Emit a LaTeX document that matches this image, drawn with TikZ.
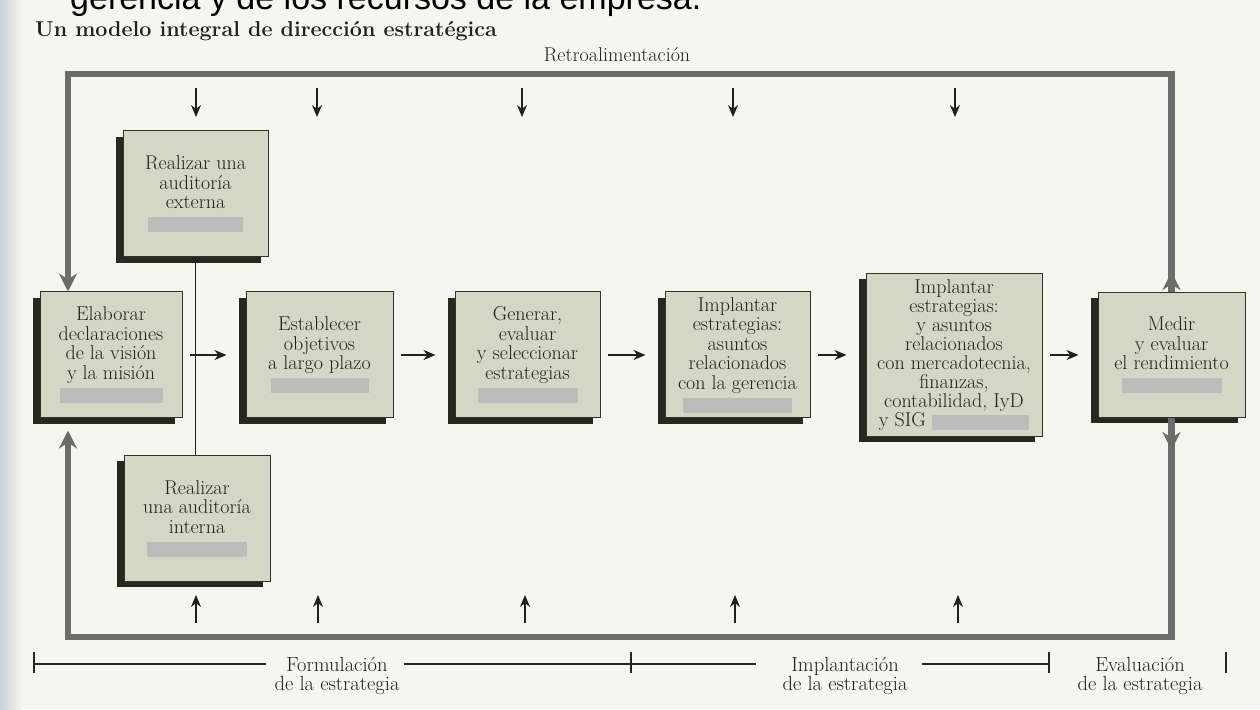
\documentclass[tikz,border=0pt]{standalone}
\usepackage{fontspec}
\setsansfont{Liberation Sans}
\usetikzlibrary{positioning,arrows.meta,shadows}

\definecolor{fondo}{RGB}{246,246,240}
\definecolor{caja}{RGB}{212,215,197}
\definecolor{sombra}{RGB}{40,40,30}
\definecolor{borde}{RGB}{50,50,45}
\definecolor{retro}{RGB}{108,108,106}
\definecolor{tinta}{RGB}{32,32,28}
\definecolor{tapagris}{RGB}{188,188,188}
\definecolor{orilla}{RGB}{200,212,216}

% barra gris que tapa el texto
\newcommand{\tapa}[1][100pt]{\textcolor{tapagris}{\rule[-4pt]{#1}{15pt}}}

\tikzset{
  paso/.style={draw=borde, line width=1pt, fill=caja, align=center,
    general shadow={fill=sombra, shadow xshift=-7pt, shadow yshift=-6pt},
    font=\fontsize{20}{19.5}\selectfont, text=tinta,
    minimum width=145pt, minimum height=126pt, inner sep=2pt},
  flujo/.style={draw=tinta, line width=2pt, -{Stealth[length=12pt,width=10pt]},
    shorten <=7pt, shorten >=19pt},
  retroline/.style={draw=retro, line width=6.5pt},
  retrotip/.style={-{Stealth[length=18pt,width=18pt]}},
  entrada/.style={draw=tinta, line width=1.3pt, -{Stealth[length=12pt,width=10pt]}},
  fase/.style={draw=black!85, line width=1.6pt},
  etiqueta/.style={font=\fontsize{20.5}{18.5}\selectfont, align=center, text=tinta, inner sep=4pt}
}

\begin{document}
\begin{tikzpicture}[x=1pt,y=1pt]
  % fondo
  \fill[fondo] (0,0) rectangle (1260,709);
  \shade[left color=orilla, right color=fondo] (0,0) rectangle (22,709);
  \useasboundingbox (0,0) rectangle (1260,709);

  %% textos de arriba
  \node[anchor=base west, font=\sffamily\fontsize{34}{34}\selectfont, inner sep=0pt] (pagina) at (70,699) {gerencia y de los recursos de la empresa.};
  \node[anchor=base west, font=\bfseries\fontsize{21.5}{21.5}\selectfont, inner sep=0pt, text=tinta] (titulo) at (35,672) {Un modelo integral de dirección estratégica};
  \node[font=\fontsize{20}{20}\selectfont, text=tinta] (retro) at (617,654) {Retroalimentación};

  %% pasos
  \node[paso, minimum width=142pt] (elab) at (111,354) {Elaborar\\declaraciones\\de la visión\\y la misión\\\tapa[103pt]};
  \node[paso, right=63pt of elab, minimum width=147pt] (estab) {Establecer\\objetivos\\a largo plazo\\\tapa[98pt]};
  \node[paso, right=61pt of estab] (gener) {Generar,\\evaluar\\y seleccionar\\estrategias\\\tapa[100pt]};
  \node[paso, right=64pt of gener] (impl1) {Implantar\\estrategias:\\asuntos\\relacionados\\con la gerencia\\\tapa[109pt]};
  \node[paso, right=55pt of impl1, minimum width=176pt, minimum height=163pt, font=\fontsize{20}{19}\selectfont] (impl2) {Implantar\\estrategias:\\y asuntos\\relacionados\\con mercadotecnia,\\finanzas,\\contabilidad, IyD\\y SIG \tapa[97pt]};
  \node[paso, right=55pt of impl2, minimum width=147pt, minimum height=125pt] (medir) {Medir\\y evaluar\\el rendimiento\\\tapa[100pt]};
  \node[paso] (extern) at (195.5,515) {Realizar una\\auditoría\\externa\\\tapa[95pt]};
  \node[paso, minimum width=146pt] (intern) at (197,190.5) {Realizar\\una auditoría\\interna\\\tapa[100pt]};

  %% conexiones
  \draw[draw=tinta, line width=1.2pt] (extern.south) -- (extern.south |- intern.north);
  \draw[flujo] (elab) -- (estab);
  \draw[flujo] (estab) -- (gener);
  \draw[flujo] (gener) -- (impl1);
  \draw[flujo] (impl1) -- (impl2);
  \draw[flujo] (impl2) -- (medir);

  %% retroalimentacion
  \coordinate (esqA) at (68,635);
  \coordinate (esqB) at (medir.north |- esqA);
  \coordinate (esqC) at (68,72);
  \coordinate (esqD) at (medir.south |- esqC);
  \coordinate (subeA) at ([yshift=20pt]medir.north);
  \coordinate (bajaA) at ([yshift=-32pt]medir.south);
  \draw[retroline, retrotip] (medir.north) -- (esqB) -- (esqA) -- (esqA |- elab.north);
  \draw[retroline, retrotip] (medir.north) -- (subeA);
  \draw[retroline, retrotip, shorten >=12pt] (medir.south) -- (esqD) -- (esqC) -- (esqC |- elab.south);
  \draw[retroline, retrotip] (medir.south) -- (bajaA);

  %% entradas
  \foreach \x [count=\i] in {196,317,522,733,955} {
    \coordinate (arribaA\i) at (\x,621);
    \coordinate (arribaB\i) at (\x,592);
    \draw[entrada] (arribaA\i) -- (arribaB\i);
  }
  \foreach \x [count=\i] in {196,318,525,735,958} {
    \coordinate (abajoA\i) at (\x,86);
    \coordinate (abajoB\i) at (\x,114);
    \draw[entrada] (abajoA\i) -- (abajoB\i);
  }

  %% fases
  \node[etiqueta] (formul) at (337,33) {Formulación\\de la estrategia};
  \node[etiqueta] (implan) at (845,33) {Implantación\\de la estrategia};
  \node[etiqueta] (evalua) at (1140,33) {Evaluación\\de la estrategia};
  \coordinate (m1) at (34,45);
  \coordinate (m2) at (631,45);
  \coordinate (m3) at (1049,45);
  \coordinate (m4) at (1226,45);
  \draw[fase, shorten >=4pt] (m1) -- (formul.west |- m1);
  \draw[fase] (formul.east |- m2) -- (m2);
  \draw[fase, shorten >=22pt] (m2) -- (implan.west |- m2);
  \draw[fase, shorten <=10pt] (implan.east |- m3) -- (m3);
  \foreach \m in {m1,m2,m3,m4}
    \draw[fase] ([yshift=-9pt]\m) -- ([yshift=12pt]\m);
\end{tikzpicture}
\end{document}
